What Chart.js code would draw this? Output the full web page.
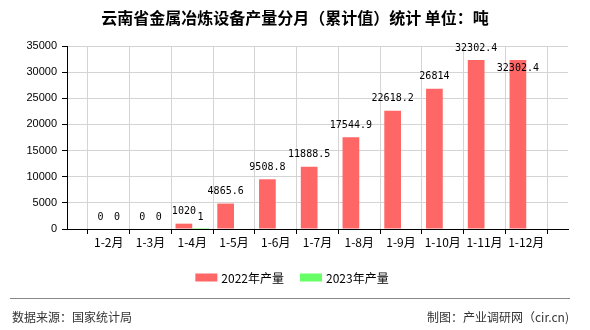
<!DOCTYPE html>
<html>
<head>
<meta charset="utf-8">
<script src="https://cdn.jsdelivr.net/npm/chart.js@4.4.1/dist/chart.umd.min.js"></script>
<style>
  html, body { margin: 0; padding: 0; background: #fff; }
</style>
</head>
<body>
<canvas id="myChart" width="590" height="330"></canvas>
<script>
// Gegevens uit de grafiek
const titleText = '云南省金属冶炼设备产量分月（累计值）统计 单位：吨';
const categories = ['1-2月', '1-3月', '1-4月', '1-5月', '1-6月', '1-7月', '1-8月', '1-9月', '1-10月', '1-11月', '1-12月'];
const series2022 = [0, 0, 1020, 4865.6, 9508.8, 11888.5, 17544.9, 22618.2, 26814, 32302.4, 32302.4];
const series2023 = [0, 0, 1];
const seriesNames = ['2022年产量', '2023年产量'];
const yTicks = [0, 5000, 10000, 15000, 20000, 25000, 30000, 35000];
const sourceText = '数据来源：国家统计局';
const makerText = '制图：产业调研网（cir.cn)';

// lege plekken aan begin en eind, zoals in het origineel
const labels = [''].concat(categories, ['']);
function pad(arr) {
  let out = [null];
  for (let i = 0; i < categories.length; i++) {
    out.push(arr[i] === undefined ? null : arr[i]);
  }
  out.push(null);
  return out;
}

const colors = ['#ff6666', '#66ff66'];
const cjk = '"Noto Sans CJK SC", "Noto Sans", sans-serif';

// waarden boven de staven
const valueLabels = {
  id: 'valueLabels',
  afterDatasetsDraw(chart) {
    const ctx = chart.ctx;
    ctx.save();
    ctx.font = '10px "DejaVu Sans Mono", monospace';
    ctx.fillStyle = '#000';
    ctx.textAlign = 'center';
    ctx.textBaseline = 'middle';
    chart.data.datasets.forEach((ds, di) => {
      chart.getDatasetMeta(di).data.forEach((bar, i) => {
        const v = ds.data[i];
        if (v === null || v === undefined) return;
        // gelijke waarde als vorige: label in de staaf zetten
        const same = i > 0 && ds.data[i - 1] === v && v > 0;
        const y = same ? bar.y + 8 : bar.y - 12;
        ctx.fillText(String(v), bar.x, y);
      });
    });
    ctx.restore();
  }
};

// titel, legenda en voettekst
const decorations = {
  id: 'decorations',
  afterDraw(chart) {
    const ctx = chart.ctx;
    ctx.save();

    ctx.fillStyle = '#000';
    ctx.font = 'bold 16px ' + cjk;
    ctx.textAlign = 'center';
    ctx.textBaseline = 'middle';
    ctx.fillText(titleText, 295, 18);

    // legenda
    ctx.font = '12px ' + cjk;
    const ds = chart.data.datasets;
    const boxW = 22, boxH = 8, gap = 4, itemGap = 16;
    let total = 0;
    ds.forEach((d, i) => {
      total += boxW + gap + ctx.measureText(d.label).width;
      if (i < ds.length - 1) total += itemGap;
    });
    let x = 292 - total / 2;
    ctx.textAlign = 'left';
    ds.forEach(d => {
      ctx.fillStyle = d.backgroundColor;
      ctx.fillRect(x, 273.5, boxW, boxH);
      x += boxW + gap;
      ctx.fillStyle = '#000';
      ctx.fillText(d.label, x, 278);
      x += ctx.measureText(d.label).width + itemGap;
    });

    // lijn en bronvermelding
    ctx.strokeStyle = '#888';
    ctx.lineWidth = 1;
    ctx.beginPath();
    ctx.moveTo(10, 298.5);
    ctx.lineTo(570, 298.5);
    ctx.stroke();

    ctx.fillStyle = '#333';
    ctx.font = '12px ' + cjk;
    ctx.textAlign = 'left';
    ctx.fillText(sourceText, 12, 317);
    ctx.textAlign = 'right';
    ctx.fillText(makerText, 569, 317);
    ctx.restore();
  }
};

const config = {
  type: 'bar',
  data: {
    labels: labels,
    datasets: [
      {
        label: seriesNames[0],
        data: pad(series2022),
        backgroundColor: colors[0],
        categoryPercentage: 0.8,
        barPercentage: 1
      },
      {
        label: seriesNames[1],
        data: pad(series2023),
        backgroundColor: colors[1],
        categoryPercentage: 0.8,
        barPercentage: 1
      }
    ]
  },
  options: {
    responsive: false,
    animation: false,
    devicePixelRatio: 1,
    layout: { padding: { top: 46, right: 22, bottom: 81, left: 0 } },
    plugins: {
      legend: { display: false },
      title: { display: false },
      tooltip: { enabled: false }
    },
    scales: {
      x: {
        offset: false,
        grid: { color: '#d4d4d4', tickColor: '#000', tickLength: 5 },
        border: { color: '#000' },
        ticks: {
          autoSkip: false,
          maxRotation: 0,
          padding: 1,
          color: '#000',
          font: { size: 12, family: cjk }
        },
        afterFit: function(scale) { scale.height = 20; }
      },
      y: {
        min: yTicks[0],
        max: yTicks[yTicks.length - 1],
        grid: { color: '#d4d4d4', tickColor: '#000', tickLength: 5 },
        border: { color: '#000' },
        ticks: {
          stepSize: yTicks[1] - yTicks[0],
          padding: 5,
          color: '#000',
          font: { size: 11, family: '"Liberation Sans", Arial, sans-serif' },
          callback: function(value) { return String(value); }
        },
        afterFit: function(scale) { scale.width = 67; }
      }
    }
  },
  plugins: [valueLabels, decorations]
};

var myChart = new Chart(document.getElementById('myChart'), config);
</script>
</body>
</html>
